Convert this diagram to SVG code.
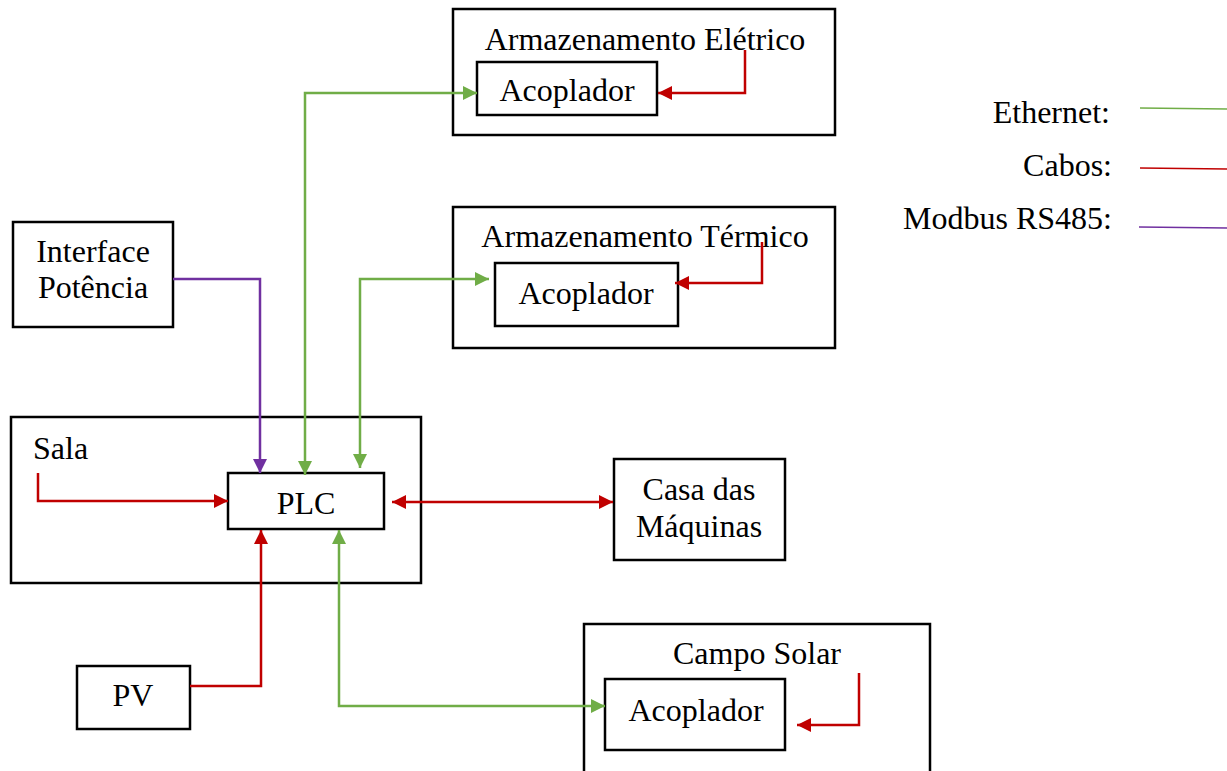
<svg xmlns="http://www.w3.org/2000/svg" width="1227" height="771" viewBox="0 0 1227 771">
  <style>
    .box { fill: #ffffff; stroke: #000000; stroke-width: 2.5; }
    .lbl { font-family: "Liberation Serif", "Times New Roman", serif; font-size: 32px; fill: #000000; }
    .mid { text-anchor: middle; }
    .end { text-anchor: end; }
    .wire { fill: none; stroke-width: 2.5; stroke-linejoin: miter; }
    .eth { stroke: #70AD47; }
    .cab { stroke: #C00000; }
    .mod { stroke: #7030A0; }
    .leg { fill: none; stroke-width: 1.5; }
  </style>
  <defs>
    <marker id="ah-green" markerUnits="userSpaceOnUse" markerWidth="15" markerHeight="15" refX="14" refY="7" orient="auto-start-reverse">
      <path d="M0,0 L14,7 L0,14 Z" fill="#70AD47"/>
    </marker>
    <marker id="ah-red" markerUnits="userSpaceOnUse" markerWidth="15" markerHeight="15" refX="14" refY="7" orient="auto-start-reverse">
      <path d="M0,0 L14,7 L0,14 Z" fill="#C00000"/>
    </marker>
    <marker id="ah-purple" markerUnits="userSpaceOnUse" markerWidth="15" markerHeight="15" refX="14" refY="7" orient="auto-start-reverse">
      <path d="M0,0 L14,7 L0,14 Z" fill="#7030A0"/>
    </marker>
  </defs>

  <rect width="1227" height="771" fill="#ffffff"/>

  <!-- Storage: electrical -->
  <g id="armazenamento-eletrico">
    <rect class="box" x="453" y="9" width="382" height="126"/>
    <text class="lbl mid" x="645" y="50">Armazenamento Elétrico</text>
    <g id="acoplador-eletrico">
      <rect class="box" x="477" y="62" width="180" height="53"/>
      <text class="lbl mid" x="567" y="101">Acoplador</text>
    </g>
  </g>

  <!-- Storage: thermal -->
  <g id="armazenamento-termico">
    <rect class="box" x="453" y="207" width="382" height="141"/>
    <text class="lbl mid" x="645" y="247">Armazenamento Térmico</text>
    <g id="acoplador-termico">
      <rect class="box" x="495" y="263" width="183" height="63"/>
      <text class="lbl mid" x="586" y="304">Acoplador</text>
    </g>
  </g>

  <!-- Power interface -->
  <g id="interface-potencia">
    <rect class="box" x="13" y="222" width="160" height="105"/>
    <text class="lbl mid" x="93" y="262">Interface</text>
    <text class="lbl mid" x="93" y="298">Potência</text>
  </g>

  <!-- Control room with the PLC -->
  <g id="sala">
    <rect class="box" x="11" y="417" width="410" height="166"/>
    <text class="lbl" x="33" y="459">Sala</text>
  </g>
  <g id="plc">
    <rect class="box" x="228" y="473" width="156" height="56"/>
    <text class="lbl mid" x="306" y="514">PLC</text>
  </g>

  <!-- Machine house -->
  <g id="casa-das-maquinas">
    <rect class="box" x="614" y="459" width="171" height="101"/>
    <text class="lbl mid" x="699" y="500">Casa das</text>
    <text class="lbl mid" x="699" y="537">Máquinas</text>
  </g>

  <!-- Photovoltaics -->
  <g id="pv">
    <rect class="box" x="77" y="666" width="113" height="63"/>
    <text class="lbl mid" x="133" y="706">PV</text>
  </g>

  <!-- Solar field -->
  <g id="campo-solar">
    <rect class="box" x="584" y="624" width="346" height="160"/>
    <text class="lbl mid" x="757" y="664">Campo Solar</text>
    <g id="acoplador-solar">
      <rect class="box" x="605" y="679" width="180" height="71"/>
      <text class="lbl mid" x="696" y="721">Acoplador</text>
    </g>
  </g>

  <!-- Links -->
  <g id="connectors">
    <!-- Ethernet -->
    <path class="wire eth" d="M305,475 L305,93 L477,93" marker-start="url(#ah-green)" marker-end="url(#ah-green)"/>
    <path class="wire eth" d="M360,468 L360,279 L489,279" marker-start="url(#ah-green)" marker-end="url(#ah-green)"/>
    <path class="wire eth" d="M339,530 L339,706 L605,706" marker-start="url(#ah-green)" marker-end="url(#ah-green)"/>
    <!-- Cables -->
    <path class="wire cab" d="M745,50 L745,93 L658,93" marker-end="url(#ah-red)"/>
    <path class="wire cab" d="M762,242 L762,283 L675,283" marker-end="url(#ah-red)"/>
    <path class="wire cab" d="M859,673 L859,725 L797,725" marker-end="url(#ah-red)"/>
    <path class="wire cab" d="M38,473 L38,501 L228,501" marker-end="url(#ah-red)"/>
    <path class="wire cab" d="M190,686 L261,686 L261,530" marker-end="url(#ah-red)"/>
    <path class="wire cab" d="M392,502 L613,502" marker-start="url(#ah-red)" marker-end="url(#ah-red)"/>
    <!-- Modbus RS485 -->
    <path class="wire mod" d="M173,279 L260,279 L260,473" marker-end="url(#ah-purple)"/>
  </g>

  <!-- Legend -->
  <g id="legenda">
    <text class="lbl end" x="1110" y="123">Ethernet:</text>
    <text class="lbl end" x="1112" y="176">Cabos:</text>
    <text class="lbl end" x="1112" y="229">Modbus RS485:</text>
    <path class="leg eth" d="M1140,108 L1227,109"/>
    <path class="leg cab" d="M1140,168 L1227,169"/>
    <path class="leg mod" d="M1139,227 L1227,228"/>
  </g>
</svg>
